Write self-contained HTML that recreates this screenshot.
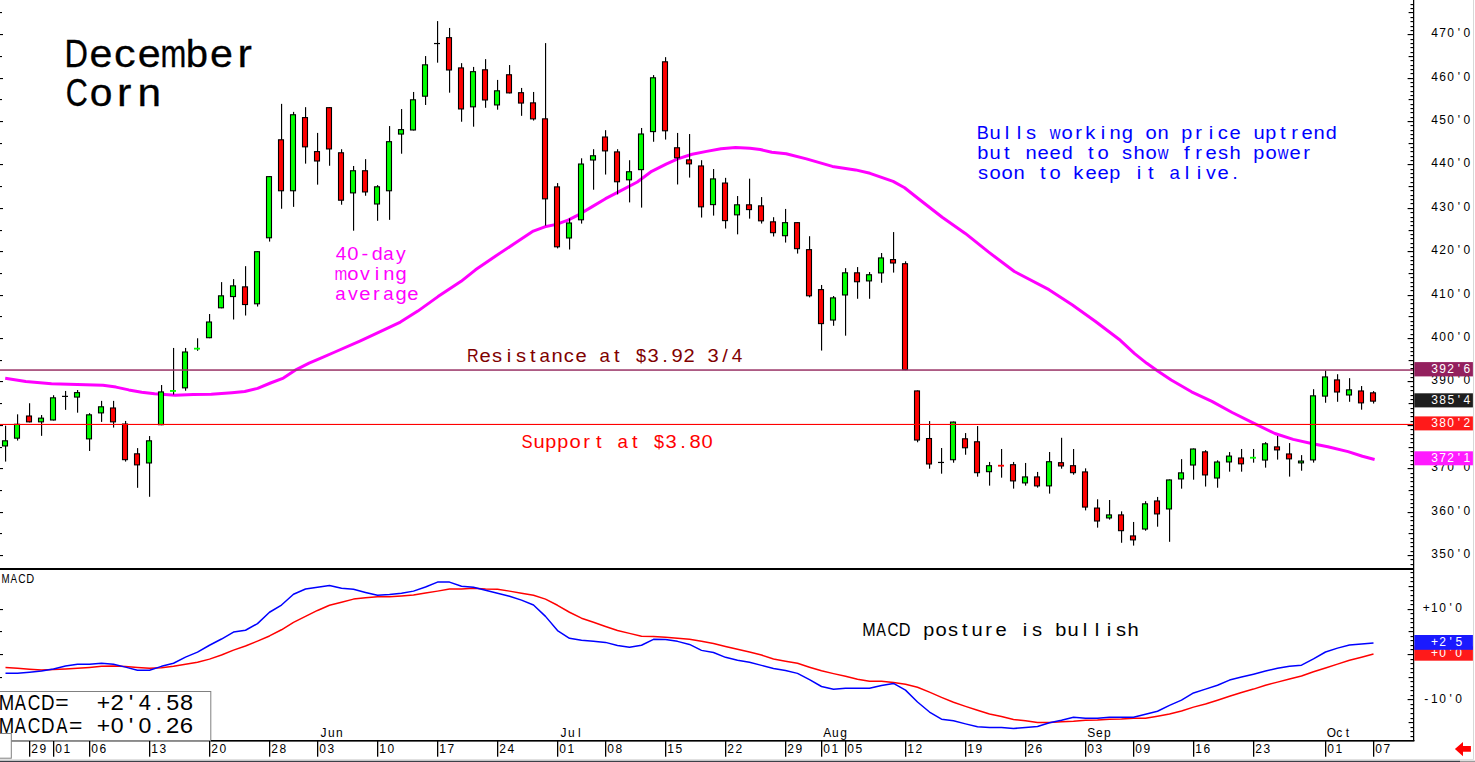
<!DOCTYPE html><html><head><meta charset="utf-8"><title>December Corn</title><style>html,body{margin:0;padding:0;background:#fff;}svg{display:block;}</style></head><body><svg width="1475" height="762" viewBox="0 0 1475 762" font-family="'Liberation Sans', sans-serif">
<rect width="1475" height="762" fill="#fff"/>
<g fill="#000"><rect x="0" y="555" width="3" height="1.1"/><rect x="0" y="533" width="2" height="1.1"/><rect x="0" y="512" width="3" height="1.1"/><rect x="0" y="490" width="2" height="1.1"/><rect x="0" y="468" width="3" height="1.1"/><rect x="0" y="447" width="2" height="1.1"/><rect x="0" y="425" width="3" height="1.1"/><rect x="0" y="403" width="2" height="1.1"/><rect x="0" y="381" width="3" height="1.1"/><rect x="0" y="360" width="2" height="1.1"/><rect x="0" y="338" width="3" height="1.1"/><rect x="0" y="316" width="2" height="1.1"/><rect x="0" y="295" width="3" height="1.1"/><rect x="0" y="273" width="2" height="1.1"/><rect x="0" y="251" width="3" height="1.1"/><rect x="0" y="230" width="2" height="1.1"/><rect x="0" y="208" width="3" height="1.1"/><rect x="0" y="186" width="2" height="1.1"/><rect x="0" y="164" width="3" height="1.1"/><rect x="0" y="143" width="2" height="1.1"/><rect x="0" y="121" width="3" height="1.1"/><rect x="0" y="99" width="2" height="1.1"/><rect x="0" y="78" width="3" height="1.1"/><rect x="0" y="56" width="2" height="1.1"/><rect x="0" y="34" width="3" height="1.1"/><rect x="0" y="12" width="2" height="1.1"/><rect x="0" y="677" width="2" height="1.1"/><rect x="0" y="654" width="3" height="1.1"/><rect x="0" y="631" width="2" height="1.1"/><rect x="0" y="609" width="3" height="1.1"/></g>
<polyline fill="none" stroke="#ff00ff" stroke-width="3" stroke-linejoin="round" stroke-linecap="butt" points="5.2,378.3 25.8,381.4 51.5,383.7 77.3,384.5 103,385.3 116,387.1 128.8,389.9 141.7,392.2 154.6,393.8 175.2,395.3 193.2,394.5 211.3,394.3 231.9,392.7 244.7,391.5 257.6,388.4 270.5,383 283.4,378.1 296.3,369.6 309.1,363.1 322,357.7 334.9,352 360.4,340.8 380.2,331.6 400.4,322.1 417.8,311.1 438,296.6 461.1,281.3 475.5,269.8 495.7,255.9 516,242.6 533.3,231.1 544.8,226.8 556.4,224.4 568,220.1 579.5,214.3 591,207.4 605.5,198.7 620,191.2 637.3,182 651.7,171.3 666.1,164.1 677.7,158.9 692.1,154.3 706.6,151.4 721,148.8 735.5,147.6 749.9,148.2 760.2,149.5 771.8,152.2 786.2,153.7 806.4,158.9 832.4,166.4 855.5,169.9 870,173.3 893.1,181.4 904.6,187.8 919.1,199.3 942.2,217.2 965.3,233.4 988.4,251.9 1014.4,271.5 1049,289.7 1072.1,304.7 1095.2,321.2 1120.3,340.3 1134.6,353.6 1146.8,363.3 1157,370.4 1171.2,380 1191.5,391.8 1211.9,401.4 1232.2,412.5 1254.6,423.7 1274.9,433.5 1293.2,439.4 1311.5,443.5 1327.8,446.7 1348.1,451.6 1362.4,456.3 1374.6,459.5"/>
<rect x="5" y="425.67" width="1.15" height="35.91" fill="#000"/><rect x="2.5" y="440.81" width="5" height="5.14" fill="#00ff00" stroke="#000" stroke-width="1.1"/><rect x="17" y="414.33" width="1.15" height="26.22" fill="#000"/><rect x="14.5" y="424.28" width="5" height="13.88" fill="#00ff00" stroke="#000" stroke-width="1.1"/><rect x="29" y="403.23" width="1.15" height="19.13" fill="#000"/><rect x="26.5" y="416.01" width="5" height="5.85" fill="#ff0000" stroke="#000" stroke-width="1.1"/><rect x="41" y="415.04" width="1.15" height="20.79" fill="#000"/><rect x="38.5" y="418.14" width="5" height="3.72" fill="#00ff00" stroke="#000" stroke-width="1.1"/><rect x="53" y="395.2" width="1.15" height="25.28" fill="#000"/><rect x="50.5" y="397.82" width="5" height="22.15" fill="#00ff00" stroke="#000" stroke-width="1.1"/><rect x="65" y="390.94" width="1.15" height="18.9" fill="#000"/><rect x="62" y="395.78" width="6" height="1.2" fill="#000"/><rect x="77" y="390" width="1.15" height="22.68" fill="#000"/><rect x="74.5" y="392.63" width="5" height="4.43" fill="#00ff00" stroke="#000" stroke-width="1.1"/><rect x="89" y="413.15" width="1.15" height="37.8" fill="#000"/><rect x="86.5" y="414.83" width="5" height="24.04" fill="#00ff00" stroke="#000" stroke-width="1.1"/><rect x="101" y="400.87" width="1.15" height="21.02" fill="#000"/><rect x="98.5" y="406.8" width="5" height="6.09" fill="#00ff00" stroke="#000" stroke-width="1.1"/><rect x="113" y="400.87" width="1.15" height="26.69" fill="#000"/><rect x="110.5" y="407.98" width="5" height="13.88" fill="#ff0000" stroke="#000" stroke-width="1.1"/><rect x="125" y="420.94" width="1.15" height="40.63" fill="#000"/><rect x="122.5" y="424.04" width="5" height="35.61" fill="#ff0000" stroke="#000" stroke-width="1.1"/><rect x="137" y="448.11" width="1.15" height="39.69" fill="#000"/><rect x="134.5" y="453.81" width="5" height="11.05" fill="#ff0000" stroke="#000" stroke-width="1.1"/><rect x="149" y="436.06" width="1.15" height="60.71" fill="#000"/><rect x="146.5" y="440.81" width="5" height="22.15" fill="#00ff00" stroke="#000" stroke-width="1.1"/><rect x="161" y="385.04" width="1.15" height="40.16" fill="#000"/><rect x="158.5" y="391.92" width="5" height="32.78" fill="#00ff00" stroke="#000" stroke-width="1.1"/><rect x="173" y="347.95" width="1.15" height="46.54" fill="#000"/><rect x="170" y="390.04" width="6" height="1.8" fill="#00ff00"/><rect x="185" y="347.95" width="1.15" height="42.76" fill="#000"/><rect x="182.5" y="352" width="5" height="35.85" fill="#00ff00" stroke="#000" stroke-width="1.1"/><rect x="197" y="338.27" width="1.15" height="12.52" fill="#000"/><rect x="194" y="347.76" width="6" height="1.8" fill="#00ff00"/><rect x="209" y="314.02" width="1.15" height="24.17" fill="#000"/><rect x="206.5" y="322" width="5" height="15.7" fill="#00ff00" stroke="#000" stroke-width="1.1"/><rect x="221" y="282.12" width="1.15" height="26.17" fill="#000"/><rect x="218.5" y="295.83" width="5" height="11.96" fill="#00ff00" stroke="#000" stroke-width="1.1"/><rect x="233" y="279.13" width="1.15" height="40.37" fill="#000"/><rect x="230.5" y="285.86" width="5" height="10.71" fill="#00ff00" stroke="#000" stroke-width="1.1"/><rect x="245" y="266.17" width="1.15" height="49.35" fill="#000"/><rect x="242.5" y="286.86" width="5" height="17.69" fill="#ff0000" stroke="#000" stroke-width="1.1"/><rect x="257" y="251.21" width="1.15" height="55.33" fill="#000"/><rect x="254.5" y="251.71" width="5" height="52.08" fill="#00ff00" stroke="#000" stroke-width="1.1"/><rect x="269" y="176.14" width="1.15" height="65.43" fill="#000"/><rect x="266.5" y="176.64" width="5" height="61.13" fill="#00ff00" stroke="#000" stroke-width="1.1"/><rect x="281" y="103.86" width="1.15" height="104.88" fill="#000"/><rect x="278.5" y="139.79" width="5" height="50.97" fill="#ff0000" stroke="#000" stroke-width="1.1"/><rect x="293" y="111.89" width="1.15" height="94.96" fill="#000"/><rect x="290.5" y="114.75" width="5" height="76.01" fill="#00ff00" stroke="#000" stroke-width="1.1"/><rect x="305" y="107.17" width="1.15" height="56.46" fill="#000"/><rect x="302.5" y="117.59" width="5" height="29.24" fill="#ff0000" stroke="#000" stroke-width="1.1"/><rect x="317" y="132.91" width="1.15" height="51.73" fill="#000"/><rect x="314.5" y="151.6" width="5" height="9.39" fill="#ff0000" stroke="#000" stroke-width="1.1"/><rect x="329" y="107.17" width="1.15" height="58.58" fill="#000"/><rect x="326.5" y="107.67" width="5" height="41.28" fill="#ff0000" stroke="#000" stroke-width="1.1"/><rect x="341" y="149.21" width="1.15" height="55.51" fill="#000"/><rect x="338.5" y="152.78" width="5" height="47.43" fill="#ff0000" stroke="#000" stroke-width="1.1"/><rect x="353" y="165.98" width="1.15" height="64.72" fill="#000"/><rect x="350.5" y="170.74" width="5" height="22.15" fill="#00ff00" stroke="#000" stroke-width="1.1"/><rect x="365" y="159.13" width="1.15" height="36.61" fill="#000"/><rect x="362.5" y="170.74" width="5" height="21.2" fill="#ff0000" stroke="#000" stroke-width="1.1"/><rect x="377" y="185.12" width="1.15" height="35.67" fill="#000"/><rect x="374.5" y="186.8" width="5" height="17.19" fill="#00ff00" stroke="#000" stroke-width="1.1"/><rect x="389" y="126.06" width="1.15" height="93.78" fill="#000"/><rect x="386.5" y="141.68" width="5" height="49.08" fill="#00ff00" stroke="#000" stroke-width="1.1"/><rect x="401" y="109.06" width="1.15" height="44.65" fill="#000"/><rect x="398.5" y="129.63" width="5" height="4.43" fill="#00ff00" stroke="#000" stroke-width="1.1"/><rect x="413" y="91.97" width="1.15" height="38.5" fill="#000"/><rect x="410.5" y="99.79" width="5" height="30.18" fill="#00ff00" stroke="#000" stroke-width="1.1"/><rect x="425" y="56.06" width="1.15" height="48.9" fill="#000"/><rect x="422.5" y="64.83" width="5" height="31.36" fill="#00ff00" stroke="#000" stroke-width="1.1"/><rect x="437" y="21.1" width="1.15" height="41.57" fill="#000"/><rect x="434" y="42.94" width="6" height="1.2" fill="#000"/><rect x="449" y="27.95" width="1.15" height="64.72" fill="#000"/><rect x="446.5" y="37.67" width="5" height="32.31" fill="#ff0000" stroke="#000" stroke-width="1.1"/><rect x="461" y="63.15" width="1.15" height="58.58" fill="#000"/><rect x="458.5" y="67.9" width="5" height="41.05" fill="#ff0000" stroke="#000" stroke-width="1.1"/><rect x="473" y="66.93" width="1.15" height="59.76" fill="#000"/><rect x="470.5" y="71.68" width="5" height="35.14" fill="#00ff00" stroke="#000" stroke-width="1.1"/><rect x="485" y="59.13" width="1.15" height="48.66" fill="#000"/><rect x="482.5" y="69.79" width="5" height="30.18" fill="#ff0000" stroke="#000" stroke-width="1.1"/><rect x="497" y="79.92" width="1.15" height="29.76" fill="#000"/><rect x="494.5" y="90.81" width="5" height="14.12" fill="#00ff00" stroke="#000" stroke-width="1.1"/><rect x="509" y="65.04" width="1.15" height="28.35" fill="#000"/><rect x="506.5" y="74.75" width="5" height="18.13" fill="#ff0000" stroke="#000" stroke-width="1.1"/><rect x="521" y="87.95" width="1.15" height="27.87" fill="#000"/><rect x="518.5" y="92.7" width="5" height="10.34" fill="#ff0000" stroke="#000" stroke-width="1.1"/><rect x="533" y="91.97" width="1.15" height="28.58" fill="#000"/><rect x="530.5" y="102.86" width="5" height="16.01" fill="#ff0000" stroke="#000" stroke-width="1.1"/><rect x="545" y="43.1" width="1.15" height="182.42" fill="#000"/><rect x="542.5" y="118.84" width="5" height="80.01" fill="#ff0000" stroke="#000" stroke-width="1.1"/><rect x="557" y="183.09" width="1.15" height="65.3" fill="#000"/><rect x="554.5" y="186.89" width="5" height="59.9" fill="#ff0000" stroke="#000" stroke-width="1.1"/><rect x="569" y="218.36" width="1.15" height="31.14" fill="#000"/><rect x="566.5" y="222.99" width="5" height="14.98" fill="#00ff00" stroke="#000" stroke-width="1.1"/><rect x="581" y="158.29" width="1.15" height="65.3" fill="#000"/><rect x="578.5" y="164.02" width="5" height="55.76" fill="#00ff00" stroke="#000" stroke-width="1.1"/><rect x="593" y="149.2" width="1.15" height="40.51" fill="#000"/><rect x="590.5" y="155.76" width="5" height="4.24" fill="#00ff00" stroke="#000" stroke-width="1.1"/><rect x="605" y="130.18" width="1.15" height="44.36" fill="#000"/><rect x="602.5" y="137.02" width="5" height="13.88" fill="#ff0000" stroke="#000" stroke-width="1.1"/><rect x="617" y="149.2" width="1.15" height="45.19" fill="#000"/><rect x="614.5" y="151.9" width="5" height="29.86" fill="#ff0000" stroke="#000" stroke-width="1.1"/><rect x="629" y="160.22" width="1.15" height="42.16" fill="#000"/><rect x="626.5" y="171.74" width="5" height="8.09" fill="#00ff00" stroke="#000" stroke-width="1.1"/><rect x="641" y="127.98" width="1.15" height="79.63" fill="#000"/><rect x="638.5" y="133.99" width="5" height="35.65" fill="#00ff00" stroke="#000" stroke-width="1.1"/><rect x="653" y="75.07" width="1.15" height="66.68" fill="#000"/><rect x="650.5" y="77.78" width="5" height="53.83" fill="#00ff00" stroke="#000" stroke-width="1.1"/><rect x="665" y="57.16" width="1.15" height="82.39" fill="#000"/><rect x="662.5" y="61.8" width="5" height="68.99" fill="#ff0000" stroke="#000" stroke-width="1.1"/><rect x="677" y="132.94" width="1.15" height="51.53" fill="#000"/><rect x="674.5" y="147.77" width="5" height="10.02" fill="#ff0000" stroke="#000" stroke-width="1.1"/><rect x="689" y="134.04" width="1.15" height="43.54" fill="#000"/><rect x="686.5" y="159.89" width="5" height="3.96" fill="#ff0000" stroke="#000" stroke-width="1.1"/><rect x="701" y="160.22" width="1.15" height="57.31" fill="#000"/><rect x="698.5" y="165.95" width="5" height="40.88" fill="#ff0000" stroke="#000" stroke-width="1.1"/><rect x="713" y="169.04" width="1.15" height="46.57" fill="#000"/><rect x="710.5" y="178.9" width="5" height="25.73" fill="#00ff00" stroke="#000" stroke-width="1.1"/><rect x="725" y="177.85" width="1.15" height="50.7" fill="#000"/><rect x="722.5" y="183.04" width="5" height="37.58" fill="#ff0000" stroke="#000" stroke-width="1.1"/><rect x="737" y="196.04" width="1.15" height="38.3" fill="#000"/><rect x="734.5" y="204.81" width="5" height="10.02" fill="#00ff00" stroke="#000" stroke-width="1.1"/><rect x="749" y="178.68" width="1.15" height="39.95" fill="#000"/><rect x="746.5" y="204.81" width="5" height="4.79" fill="#ff0000" stroke="#000" stroke-width="1.1"/><rect x="761" y="197.08" width="1.15" height="26.45" fill="#000"/><rect x="758.5" y="205.85" width="5" height="14.98" fill="#ff0000" stroke="#000" stroke-width="1.1"/><rect x="773" y="217.2" width="1.15" height="19.29" fill="#000"/><rect x="770.5" y="221.83" width="5" height="10.85" fill="#ff0000" stroke="#000" stroke-width="1.1"/><rect x="785" y="208.93" width="1.15" height="33.62" fill="#000"/><rect x="782.5" y="222.66" width="5" height="13.05" fill="#00ff00" stroke="#000" stroke-width="1.1"/><rect x="797" y="222.16" width="1.15" height="31.41" fill="#000"/><rect x="794.5" y="222.66" width="5" height="26" fill="#ff0000" stroke="#000" stroke-width="1.1"/><rect x="809" y="236.21" width="1.15" height="61.17" fill="#000"/><rect x="806.5" y="249.66" width="5" height="46.12" fill="#ff0000" stroke="#000" stroke-width="1.1"/><rect x="821" y="284.98" width="1.15" height="65.58" fill="#000"/><rect x="818.5" y="289.62" width="5" height="33.99" fill="#ff0000" stroke="#000" stroke-width="1.1"/><rect x="833" y="296" width="1.15" height="29.76" fill="#000"/><rect x="830.5" y="297.88" width="5" height="22.15" fill="#00ff00" stroke="#000" stroke-width="1.1"/><rect x="845" y="268.17" width="1.15" height="67.51" fill="#000"/><rect x="842.5" y="272.81" width="5" height="22.15" fill="#00ff00" stroke="#000" stroke-width="1.1"/><rect x="857" y="267.07" width="1.15" height="31.69" fill="#000"/><rect x="854.5" y="272.81" width="5" height="8.92" fill="#ff0000" stroke="#000" stroke-width="1.1"/><rect x="869" y="272.03" width="1.15" height="26.73" fill="#000"/><rect x="866.5" y="274.74" width="5" height="6.16" fill="#00ff00" stroke="#000" stroke-width="1.1"/><rect x="881" y="253.02" width="1.15" height="29.76" fill="#000"/><rect x="878.5" y="257.93" width="5" height="14.98" fill="#00ff00" stroke="#000" stroke-width="1.1"/><rect x="893" y="232.08" width="1.15" height="40.51" fill="#000"/><rect x="890.5" y="259.58" width="5" height="3.41" fill="#ff0000" stroke="#000" stroke-width="1.1"/><rect x="905" y="261.29" width="1.15" height="108.84" fill="#000"/><rect x="902.5" y="263.71" width="5" height="105.91" fill="#ff0000" stroke="#000" stroke-width="1.1"/><rect x="917" y="390.44" width="1.15" height="51.84" fill="#000"/><rect x="914.5" y="390.94" width="5" height="49.09" fill="#ff0000" stroke="#000" stroke-width="1.1"/><rect x="929" y="421.09" width="1.15" height="47.6" fill="#000"/><rect x="926.5" y="438.54" width="5" height="25.42" fill="#ff0000" stroke="#000" stroke-width="1.1"/><rect x="941" y="448.01" width="1.15" height="25.67" fill="#000"/><rect x="938" y="461.86" width="6" height="1.2" fill="#000"/><rect x="953" y="421.59" width="1.15" height="41.12" fill="#000"/><rect x="950.5" y="422.09" width="5" height="37.63" fill="#00ff00" stroke="#000" stroke-width="1.1"/><rect x="965" y="433.05" width="1.15" height="21.68" fill="#000"/><rect x="962.5" y="438.79" width="5" height="8.97" fill="#ff0000" stroke="#000" stroke-width="1.1"/><rect x="977" y="426.07" width="1.15" height="50.59" fill="#000"/><rect x="974.5" y="441.78" width="5" height="30.9" fill="#ff0000" stroke="#000" stroke-width="1.1"/><rect x="989" y="461.96" width="1.15" height="23.68" fill="#000"/><rect x="986.5" y="465.7" width="5" height="5.98" fill="#00ff00" stroke="#000" stroke-width="1.1"/><rect x="1001" y="449" width="1.15" height="28.66" fill="#000"/><rect x="998" y="464.8" width="6" height="1.8" fill="#ff0000"/><rect x="1013" y="461.96" width="1.15" height="26.67" fill="#000"/><rect x="1010.5" y="464.71" width="5" height="16.2" fill="#ff0000" stroke="#000" stroke-width="1.1"/><rect x="1025" y="462.96" width="1.15" height="22.68" fill="#000"/><rect x="1022.5" y="476.92" width="5" height="5.98" fill="#00ff00" stroke="#000" stroke-width="1.1"/><rect x="1037" y="471.93" width="1.15" height="15.7" fill="#000"/><rect x="1034.5" y="476.92" width="5" height="8.97" fill="#ff0000" stroke="#000" stroke-width="1.1"/><rect x="1049" y="451.99" width="1.15" height="41.62" fill="#000"/><rect x="1046.5" y="461.71" width="5" height="24.17" fill="#00ff00" stroke="#000" stroke-width="1.1"/><rect x="1061" y="437.79" width="1.15" height="30.9" fill="#000"/><rect x="1058.5" y="462.71" width="5" height="3.24" fill="#ff0000" stroke="#000" stroke-width="1.1"/><rect x="1073" y="449" width="1.15" height="25.67" fill="#000"/><rect x="1070.5" y="465.7" width="5" height="6.98" fill="#ff0000" stroke="#000" stroke-width="1.1"/><rect x="1085" y="468.35" width="1.15" height="42.05" fill="#000"/><rect x="1082.5" y="471.92" width="5" height="35.14" fill="#ff0000" stroke="#000" stroke-width="1.1"/><rect x="1097" y="499.29" width="1.15" height="28.35" fill="#000"/><rect x="1094.5" y="508.06" width="5" height="12.94" fill="#ff0000" stroke="#000" stroke-width="1.1"/><rect x="1109" y="500" width="1.15" height="19.61" fill="#000"/><rect x="1106.5" y="514.91" width="5" height="3.02" fill="#00ff00" stroke="#000" stroke-width="1.1"/><rect x="1121" y="511.34" width="1.15" height="31.42" fill="#000"/><rect x="1118.5" y="514.91" width="5" height="15.77" fill="#ff0000" stroke="#000" stroke-width="1.1"/><rect x="1133" y="521.97" width="1.15" height="23.62" fill="#000"/><rect x="1130.5" y="535.93" width="5" height="3.96" fill="#ff0000" stroke="#000" stroke-width="1.1"/><rect x="1145" y="501.18" width="1.15" height="29.53" fill="#000"/><rect x="1142.5" y="503.81" width="5" height="25.22" fill="#00ff00" stroke="#000" stroke-width="1.1"/><rect x="1157" y="496.93" width="1.15" height="29.76" fill="#000"/><rect x="1154.5" y="500.97" width="5" height="12.94" fill="#ff0000" stroke="#000" stroke-width="1.1"/><rect x="1169" y="479.45" width="1.15" height="62.36" fill="#000"/><rect x="1166.5" y="479.95" width="5" height="29" fill="#00ff00" stroke="#000" stroke-width="1.1"/><rect x="1181" y="459.13" width="1.15" height="29.53" fill="#000"/><rect x="1178.5" y="472.86" width="5" height="6.09" fill="#00ff00" stroke="#000" stroke-width="1.1"/><rect x="1193" y="448.5" width="1.15" height="31.18" fill="#000"/><rect x="1190.5" y="449" width="5" height="16.01" fill="#00ff00" stroke="#000" stroke-width="1.1"/><rect x="1205" y="450.16" width="1.15" height="36.38" fill="#000"/><rect x="1202.5" y="451.84" width="5" height="23.09" fill="#ff0000" stroke="#000" stroke-width="1.1"/><rect x="1217" y="460.31" width="1.15" height="27.4" fill="#000"/><rect x="1214.5" y="462" width="5" height="16.01" fill="#00ff00" stroke="#000" stroke-width="1.1"/><rect x="1229" y="452.05" width="1.15" height="19.61" fill="#000"/><rect x="1226.5" y="456.09" width="5" height="5.85" fill="#00ff00" stroke="#000" stroke-width="1.1"/><rect x="1241" y="448.98" width="1.15" height="22.68" fill="#000"/><rect x="1238.5" y="457.98" width="5" height="5.85" fill="#ff0000" stroke="#000" stroke-width="1.1"/><rect x="1253" y="448.98" width="1.15" height="13.7" fill="#000"/><rect x="1250" y="456.82" width="6" height="1.8" fill="#00ff00"/><rect x="1265" y="442.13" width="1.15" height="25.51" fill="#000"/><rect x="1262.5" y="443.81" width="5" height="16.24" fill="#00ff00" stroke="#000" stroke-width="1.1"/><rect x="1277" y="435.98" width="1.15" height="23.62" fill="#000"/><rect x="1274.5" y="446.88" width="5" height="3.02" fill="#ff0000" stroke="#000" stroke-width="1.1"/><rect x="1289" y="443.07" width="1.15" height="33.54" fill="#000"/><rect x="1286.5" y="453.96" width="5" height="4.91" fill="#ff0000" stroke="#000" stroke-width="1.1"/><rect x="1301" y="455.12" width="1.15" height="15.59" fill="#000"/><rect x="1298.5" y="461.05" width="5" height="1.83" fill="#00ff00" stroke="#000" stroke-width="1.1"/><rect x="1313" y="389.19" width="1.15" height="73.42" fill="#000"/><rect x="1310.5" y="395.84" width="5" height="64.07" fill="#00ff00" stroke="#000" stroke-width="1.1"/><rect x="1325" y="370.44" width="1.15" height="32.3" fill="#000"/><rect x="1322.5" y="376.93" width="5" height="19.17" fill="#00ff00" stroke="#000" stroke-width="1.1"/><rect x="1337" y="374.22" width="1.15" height="27.57" fill="#000"/><rect x="1334.5" y="379.92" width="5" height="12.08" fill="#ff0000" stroke="#000" stroke-width="1.1"/><rect x="1349" y="378.16" width="1.15" height="23.63" fill="#000"/><rect x="1346.5" y="389.85" width="5" height="5.14" fill="#00ff00" stroke="#000" stroke-width="1.1"/><rect x="1361" y="386.04" width="1.15" height="23.63" fill="#000"/><rect x="1358.5" y="390.95" width="5" height="11.92" fill="#ff0000" stroke="#000" stroke-width="1.1"/><rect x="1373" y="391.08" width="1.15" height="12.45" fill="#000"/><rect x="1370.5" y="392.84" width="5" height="8.3" fill="#ff0000" stroke="#000" stroke-width="1.1"/>
<rect x="0" y="369.3" width="1413" height="1.5" fill="#993366"/>
<rect x="0" y="423.9" width="1413" height="1.1" fill="#ff0000"/>
<rect x="0" y="568" width="1414" height="2" fill="#000"/>
<rect x="1413" y="0" width="1.25" height="741" fill="#000"/>
<rect x="11" y="740" width="1403.3" height="1.4" fill="#000"/>
<g fill="#000"><rect x="1410.5" y="564" width="2.5" height="1.15"/><rect x="1410.5" y="559" width="2.5" height="1.15"/><rect x="1407.6" y="555" width="5.4" height="1.15"/><rect x="1410.5" y="551" width="2.5" height="1.15"/><rect x="1410.5" y="546" width="2.5" height="1.15"/><rect x="1410.5" y="542" width="2.5" height="1.15"/><rect x="1410.5" y="538" width="2.5" height="1.15"/><rect x="1408.6" y="533" width="4.4" height="1.15"/><rect x="1410.5" y="529" width="2.5" height="1.15"/><rect x="1410.5" y="525" width="2.5" height="1.15"/><rect x="1410.5" y="520" width="2.5" height="1.15"/><rect x="1410.5" y="516" width="2.5" height="1.15"/><rect x="1407.6" y="512" width="5.4" height="1.15"/><rect x="1410.5" y="507" width="2.5" height="1.15"/><rect x="1410.5" y="503" width="2.5" height="1.15"/><rect x="1410.5" y="499" width="2.5" height="1.15"/><rect x="1410.5" y="494" width="2.5" height="1.15"/><rect x="1408.6" y="490" width="4.4" height="1.15"/><rect x="1410.5" y="486" width="2.5" height="1.15"/><rect x="1410.5" y="481" width="2.5" height="1.15"/><rect x="1410.5" y="477" width="2.5" height="1.15"/><rect x="1410.5" y="473" width="2.5" height="1.15"/><rect x="1407.6" y="468" width="5.4" height="1.15"/><rect x="1410.5" y="464" width="2.5" height="1.15"/><rect x="1410.5" y="460" width="2.5" height="1.15"/><rect x="1410.5" y="455" width="2.5" height="1.15"/><rect x="1410.5" y="451" width="2.5" height="1.15"/><rect x="1408.6" y="447" width="4.4" height="1.15"/><rect x="1410.5" y="442" width="2.5" height="1.15"/><rect x="1410.5" y="438" width="2.5" height="1.15"/><rect x="1410.5" y="434" width="2.5" height="1.15"/><rect x="1410.5" y="429" width="2.5" height="1.15"/><rect x="1407.6" y="425" width="5.4" height="1.15"/><rect x="1410.5" y="421" width="2.5" height="1.15"/><rect x="1410.5" y="416" width="2.5" height="1.15"/><rect x="1410.5" y="412" width="2.5" height="1.15"/><rect x="1410.5" y="408" width="2.5" height="1.15"/><rect x="1408.6" y="403" width="4.4" height="1.15"/><rect x="1410.5" y="399" width="2.5" height="1.15"/><rect x="1410.5" y="395" width="2.5" height="1.15"/><rect x="1410.5" y="390" width="2.5" height="1.15"/><rect x="1410.5" y="386" width="2.5" height="1.15"/><rect x="1407.6" y="381" width="5.4" height="1.15"/><rect x="1410.5" y="377" width="2.5" height="1.15"/><rect x="1410.5" y="373" width="2.5" height="1.15"/><rect x="1410.5" y="368" width="2.5" height="1.15"/><rect x="1410.5" y="364" width="2.5" height="1.15"/><rect x="1408.6" y="360" width="4.4" height="1.15"/><rect x="1410.5" y="355" width="2.5" height="1.15"/><rect x="1410.5" y="351" width="2.5" height="1.15"/><rect x="1410.5" y="347" width="2.5" height="1.15"/><rect x="1410.5" y="342" width="2.5" height="1.15"/><rect x="1407.6" y="338" width="5.4" height="1.15"/><rect x="1410.5" y="334" width="2.5" height="1.15"/><rect x="1410.5" y="329" width="2.5" height="1.15"/><rect x="1410.5" y="325" width="2.5" height="1.15"/><rect x="1410.5" y="321" width="2.5" height="1.15"/><rect x="1408.6" y="316" width="4.4" height="1.15"/><rect x="1410.5" y="312" width="2.5" height="1.15"/><rect x="1410.5" y="308" width="2.5" height="1.15"/><rect x="1410.5" y="303" width="2.5" height="1.15"/><rect x="1410.5" y="299" width="2.5" height="1.15"/><rect x="1407.6" y="295" width="5.4" height="1.15"/><rect x="1410.5" y="290" width="2.5" height="1.15"/><rect x="1410.5" y="286" width="2.5" height="1.15"/><rect x="1410.5" y="282" width="2.5" height="1.15"/><rect x="1410.5" y="277" width="2.5" height="1.15"/><rect x="1408.6" y="273" width="4.4" height="1.15"/><rect x="1410.5" y="269" width="2.5" height="1.15"/><rect x="1410.5" y="264" width="2.5" height="1.15"/><rect x="1410.5" y="260" width="2.5" height="1.15"/><rect x="1410.5" y="256" width="2.5" height="1.15"/><rect x="1407.6" y="251" width="5.4" height="1.15"/><rect x="1410.5" y="247" width="2.5" height="1.15"/><rect x="1410.5" y="243" width="2.5" height="1.15"/><rect x="1410.5" y="238" width="2.5" height="1.15"/><rect x="1410.5" y="234" width="2.5" height="1.15"/><rect x="1408.6" y="230" width="4.4" height="1.15"/><rect x="1410.5" y="225" width="2.5" height="1.15"/><rect x="1410.5" y="221" width="2.5" height="1.15"/><rect x="1410.5" y="217" width="2.5" height="1.15"/><rect x="1410.5" y="212" width="2.5" height="1.15"/><rect x="1407.6" y="208" width="5.4" height="1.15"/><rect x="1410.5" y="203" width="2.5" height="1.15"/><rect x="1410.5" y="199" width="2.5" height="1.15"/><rect x="1410.5" y="195" width="2.5" height="1.15"/><rect x="1410.5" y="190" width="2.5" height="1.15"/><rect x="1408.6" y="186" width="4.4" height="1.15"/><rect x="1410.5" y="182" width="2.5" height="1.15"/><rect x="1410.5" y="177" width="2.5" height="1.15"/><rect x="1410.5" y="173" width="2.5" height="1.15"/><rect x="1410.5" y="169" width="2.5" height="1.15"/><rect x="1407.6" y="164" width="5.4" height="1.15"/><rect x="1410.5" y="160" width="2.5" height="1.15"/><rect x="1410.5" y="156" width="2.5" height="1.15"/><rect x="1410.5" y="151" width="2.5" height="1.15"/><rect x="1410.5" y="147" width="2.5" height="1.15"/><rect x="1408.6" y="143" width="4.4" height="1.15"/><rect x="1410.5" y="138" width="2.5" height="1.15"/><rect x="1410.5" y="134" width="2.5" height="1.15"/><rect x="1410.5" y="130" width="2.5" height="1.15"/><rect x="1410.5" y="125" width="2.5" height="1.15"/><rect x="1407.6" y="121" width="5.4" height="1.15"/><rect x="1410.5" y="117" width="2.5" height="1.15"/><rect x="1410.5" y="112" width="2.5" height="1.15"/><rect x="1410.5" y="108" width="2.5" height="1.15"/><rect x="1410.5" y="104" width="2.5" height="1.15"/><rect x="1408.6" y="99" width="4.4" height="1.15"/><rect x="1410.5" y="95" width="2.5" height="1.15"/><rect x="1410.5" y="91" width="2.5" height="1.15"/><rect x="1410.5" y="86" width="2.5" height="1.15"/><rect x="1410.5" y="82" width="2.5" height="1.15"/><rect x="1407.6" y="78" width="5.4" height="1.15"/><rect x="1410.5" y="73" width="2.5" height="1.15"/><rect x="1410.5" y="69" width="2.5" height="1.15"/><rect x="1410.5" y="65" width="2.5" height="1.15"/><rect x="1410.5" y="60" width="2.5" height="1.15"/><rect x="1408.6" y="56" width="4.4" height="1.15"/><rect x="1410.5" y="52" width="2.5" height="1.15"/><rect x="1410.5" y="47" width="2.5" height="1.15"/><rect x="1410.5" y="43" width="2.5" height="1.15"/><rect x="1410.5" y="39" width="2.5" height="1.15"/><rect x="1407.6" y="34" width="5.4" height="1.15"/><rect x="1410.5" y="30" width="2.5" height="1.15"/><rect x="1410.5" y="26" width="2.5" height="1.15"/><rect x="1410.5" y="21" width="2.5" height="1.15"/><rect x="1410.5" y="17" width="2.5" height="1.15"/><rect x="1408.6" y="12" width="4.4" height="1.15"/><rect x="1410.5" y="8" width="2.5" height="1.15"/><rect x="1410.5" y="4" width="2.5" height="1.15"/><rect x="1410.5" y="736" width="2.5" height="1.15"/><rect x="1410.5" y="731" width="2.5" height="1.15"/><rect x="1410.5" y="727" width="2.5" height="1.15"/><rect x="1408.6" y="722" width="4.4" height="1.15"/><rect x="1410.5" y="718" width="2.5" height="1.15"/><rect x="1410.5" y="713" width="2.5" height="1.15"/><rect x="1410.5" y="708" width="2.5" height="1.15"/><rect x="1410.5" y="704" width="2.5" height="1.15"/><rect x="1407.6" y="699" width="5.4" height="1.15"/><rect x="1410.5" y="695" width="2.5" height="1.15"/><rect x="1410.5" y="690" width="2.5" height="1.15"/><rect x="1410.5" y="686" width="2.5" height="1.15"/><rect x="1410.5" y="681" width="2.5" height="1.15"/><rect x="1408.6" y="677" width="4.4" height="1.15"/><rect x="1410.5" y="672" width="2.5" height="1.15"/><rect x="1410.5" y="668" width="2.5" height="1.15"/><rect x="1410.5" y="663" width="2.5" height="1.15"/><rect x="1410.5" y="659" width="2.5" height="1.15"/><rect x="1407.6" y="654" width="5.4" height="1.15"/><rect x="1410.5" y="649" width="2.5" height="1.15"/><rect x="1410.5" y="645" width="2.5" height="1.15"/><rect x="1410.5" y="640" width="2.5" height="1.15"/><rect x="1410.5" y="636" width="2.5" height="1.15"/><rect x="1408.6" y="631" width="4.4" height="1.15"/><rect x="1410.5" y="627" width="2.5" height="1.15"/><rect x="1410.5" y="622" width="2.5" height="1.15"/><rect x="1410.5" y="618" width="2.5" height="1.15"/><rect x="1410.5" y="613" width="2.5" height="1.15"/><rect x="1407.6" y="609" width="5.4" height="1.15"/><rect x="1410.5" y="604" width="2.5" height="1.15"/><rect x="1410.5" y="600" width="2.5" height="1.15"/><rect x="1410.5" y="595" width="2.5" height="1.15"/><rect x="1410.5" y="590" width="2.5" height="1.15"/><rect x="1408.6" y="586" width="4.4" height="1.15"/><rect x="1410.5" y="581" width="2.5" height="1.15"/><rect x="1410.5" y="577" width="2.5" height="1.15"/><rect x="1410.5" y="572" width="2.5" height="1.15"/></g>
<g font-size="12" fill="#000"><text x="1431.2" y="558.02">3</text><text x="1439.28" y="558.02">5</text><text x="1447.36" y="558.02">0</text><text x="1457.65" y="558.02">&#39;</text><text x="1463.56" y="558.02">0</text></g>
<g font-size="12" fill="#000"><text x="1431.2" y="514.61">3</text><text x="1439.22" y="514.61">6</text><text x="1447.36" y="514.61">0</text><text x="1457.65" y="514.61">&#39;</text><text x="1463.56" y="514.61">0</text></g>
<g font-size="12" fill="#000"><text x="1431.2" y="471.2">3</text><text x="1439.26" y="471.2">7</text><text x="1447.36" y="471.2">0</text><text x="1457.65" y="471.2">&#39;</text><text x="1463.56" y="471.2">0</text></g>
<g font-size="12" fill="#000"><text x="1431.2" y="427.79">3</text><text x="1439.26" y="427.79">8</text><text x="1447.36" y="427.79">0</text><text x="1457.65" y="427.79">&#39;</text><text x="1463.56" y="427.79">0</text></g>
<g font-size="12" fill="#000"><text x="1431.2" y="384.38">3</text><text x="1439.26" y="384.38">9</text><text x="1447.36" y="384.38">0</text><text x="1457.65" y="384.38">&#39;</text><text x="1463.56" y="384.38">0</text></g>
<g font-size="12" fill="#000"><text x="1431.2" y="340.97">4</text><text x="1439.26" y="340.97">0</text><text x="1447.36" y="340.97">0</text><text x="1457.65" y="340.97">&#39;</text><text x="1463.56" y="340.97">0</text></g>
<g font-size="12" fill="#000"><text x="1431.2" y="297.56">4</text><text x="1439.1" y="297.56">1</text><text x="1447.36" y="297.56">0</text><text x="1457.65" y="297.56">&#39;</text><text x="1463.56" y="297.56">0</text></g>
<g font-size="12" fill="#000"><text x="1431.2" y="254.15">4</text><text x="1439.26" y="254.15">2</text><text x="1447.36" y="254.15">0</text><text x="1457.65" y="254.15">&#39;</text><text x="1463.56" y="254.15">0</text></g>
<g font-size="12" fill="#000"><text x="1431.2" y="210.74">4</text><text x="1439.3" y="210.74">3</text><text x="1447.36" y="210.74">0</text><text x="1457.65" y="210.74">&#39;</text><text x="1463.56" y="210.74">0</text></g>
<g font-size="12" fill="#000"><text x="1431.2" y="167.33">4</text><text x="1439.3" y="167.33">4</text><text x="1447.36" y="167.33">0</text><text x="1457.65" y="167.33">&#39;</text><text x="1463.56" y="167.33">0</text></g>
<g font-size="12" fill="#000"><text x="1431.2" y="123.92">4</text><text x="1439.28" y="123.92">5</text><text x="1447.36" y="123.92">0</text><text x="1457.65" y="123.92">&#39;</text><text x="1463.56" y="123.92">0</text></g>
<g font-size="12" fill="#000"><text x="1431.2" y="80.51">4</text><text x="1439.22" y="80.51">6</text><text x="1447.36" y="80.51">0</text><text x="1457.65" y="80.51">&#39;</text><text x="1463.56" y="80.51">0</text></g>
<g font-size="12" fill="#000"><text x="1431.2" y="37.1">4</text><text x="1439.26" y="37.1">7</text><text x="1447.36" y="37.1">0</text><text x="1457.65" y="37.1">&#39;</text><text x="1463.56" y="37.1">0</text></g>
<g font-size="12" fill="#000"><text x="1422.8" y="611.9">+</text><text x="1430.9" y="611.9">1</text><text x="1439.16" y="611.9">0</text><text x="1449.45" y="611.9">&#39;</text><text x="1455.36" y="611.9">0</text></g>
<g font-size="12" fill="#000"><text x="1424.3" y="702.8">-</text><text x="1430.9" y="702.8">1</text><text x="1439.16" y="702.8">0</text><text x="1449.45" y="702.8">&#39;</text><text x="1455.36" y="702.8">0</text></g>
<rect x="1414.3" y="362.1" width="58.6" height="14.3" fill="#93205e"/>
<g font-size="12" fill="#fff"><text x="1431.2" y="372.7">3</text><text x="1439.26" y="372.7">9</text><text x="1447.36" y="372.7">2</text><text x="1457.65" y="372.7">&#39;</text><text x="1463.52" y="372.7">6</text></g>
<rect x="1414.3" y="393.3" width="58.6" height="14.1" fill="#1e1e1e"/>
<g font-size="12" fill="#fff"><text x="1431.2" y="403.8">3</text><text x="1439.26" y="403.8">8</text><text x="1447.38" y="403.8">5</text><text x="1457.65" y="403.8">&#39;</text><text x="1463.6" y="403.8">4</text></g>
<rect x="1414.3" y="416.4" width="58.6" height="14" fill="#ff1a1a"/>
<g font-size="12" fill="#fff"><text x="1431.2" y="426.85">3</text><text x="1439.26" y="426.85">8</text><text x="1447.36" y="426.85">0</text><text x="1457.65" y="426.85">&#39;</text><text x="1463.56" y="426.85">2</text></g>
<rect x="1414.3" y="451.3" width="58.6" height="14" fill="#ff1aff"/>
<g font-size="12" fill="#fff"><text x="1431.2" y="461.75">3</text><text x="1439.26" y="461.75">7</text><text x="1447.36" y="461.75">2</text><text x="1457.65" y="461.75">&#39;</text><text x="1463.4" y="461.75">1</text></g>
<rect x="1414.3" y="646.2" width="58.6" height="14.5" fill="#ff1a1a"/>
<g font-size="12" fill="#fff"><text x="1430.9" y="656.9">+</text><text x="1439.16" y="656.9">0</text><text x="1449.45" y="656.9">&#39;</text><text x="1455.36" y="656.9">0</text></g>
<rect x="1414.3" y="635" width="58.6" height="14.8" fill="#1a1aff"/>
<g font-size="12" fill="#fff"><text x="1430.9" y="645.85">+</text><text x="1439.16" y="645.85">2</text><text x="1449.45" y="645.85">&#39;</text><text x="1455.38" y="645.85">5</text></g>
<polyline fill="none" stroke="#ff0000" stroke-width="1.5" stroke-linejoin="round" points="5.5,667.38 17.5,668.16 29.5,669.19 41.5,669.96 53.5,669.44 65.5,668.93 77.5,668.16 89.5,667.38 101.5,666.35 113.5,666.09 125.5,666.61 137.5,667.38 149.5,668.16 161.5,667.64 173.5,666.35 185.5,664.29 197.5,662.23 209.5,659.14 221.5,655.02 233.5,650.12 245.5,646 257.5,641.11 269.5,635.95 281.5,629.77 293.5,622.3 305.5,616.37 317.5,610.45 329.5,605.29 341.5,602.2 353.5,599.11 365.5,597.82 377.5,596.79 389.5,596.79 401.5,596.02 413.5,594.99 425.5,592.93 437.5,591.13 449.5,589.06 461.5,589.06 473.5,588.29 485.5,589.06 497.5,589.32 509.5,591.13 521.5,593.19 533.5,595.25 545.5,599.11 557.5,605.29 569.5,612.25 581.5,618.18 593.5,622.3 605.5,626.42 617.5,630.54 629.5,633.38 641.5,636.21 653.5,636.47 665.5,637.24 677.5,638.27 689.5,639.3 701.5,641.36 713.5,643.42 725.5,646.52 737.5,649.35 749.5,651.99 761.5,655.08 773.5,658.95 785.5,661.27 797.5,663.33 809.5,667.19 821.5,670.8 833.5,673.63 845.5,676.21 857.5,679.3 869.5,681.36 881.5,681.36 893.5,682.39 905.5,684.2 917.5,687.29 929.5,692.18 941.5,697.34 953.5,702.23 965.5,706.35 977.5,710.22 989.5,714.08 1001.5,716.4 1013.5,719.49 1025.5,720.78 1037.5,722.58 1049.5,722.58 1061.5,721.81 1073.5,721.29 1085.5,720.26 1097.5,720.01 1109.5,719.23 1121.5,718.98 1133.5,718.2 1145.5,718.2 1157.5,716.14 1169.5,714.08 1181.5,710.99 1193.5,707.13 1205.5,704.03 1217.5,700.17 1229.5,696.31 1241.5,692.44 1253.5,689.09 1265.5,685.23 1277.5,682.14 1289.5,679.04 1301.5,675.95 1313.5,671.83 1325.5,667.97 1337.5,664.1 1349.5,660.24 1361.5,657.15 1373.5,654.05"/>
<polyline fill="none" stroke="#0000ff" stroke-width="1.5" stroke-linejoin="round" points="5.5,673.31 17.5,673.31 29.5,672.28 41.5,670.99 53.5,668.93 65.5,666.09 77.5,664.29 89.5,664.29 101.5,663.26 113.5,664.29 125.5,667.13 137.5,670.22 149.5,670.22 161.5,666.35 173.5,663.26 185.5,657.08 197.5,652.18 209.5,645.23 221.5,639.04 233.5,632.09 245.5,630.28 257.5,623.59 269.5,612.25 281.5,605.04 293.5,594.22 305.5,589.06 317.5,587.26 329.5,585.46 341.5,588.29 353.5,589.32 365.5,592.41 377.5,595.25 389.5,594.47 401.5,593.19 413.5,591.13 425.5,587 437.5,582.11 449.5,582.11 461.5,586.23 473.5,587.26 485.5,590.35 497.5,593.19 509.5,596.28 521.5,600.14 533.5,605.04 545.5,616.37 557.5,630.54 569.5,638.27 581.5,640.33 593.5,641.36 605.5,642.39 617.5,645.48 629.5,647.29 641.5,645.23 653.5,639.3 665.5,639.56 677.5,641.36 689.5,644.45 701.5,650.38 713.5,652.44 725.5,657.34 737.5,660.17 749.5,662.3 761.5,665.39 773.5,668.48 785.5,670.54 797.5,673.38 809.5,679.56 821.5,686.52 833.5,689.35 845.5,688.32 857.5,688.32 869.5,688.32 881.5,685.48 893.5,683.42 905.5,690.12 917.5,701.97 929.5,712.02 941.5,719.23 953.5,720.78 965.5,723.87 977.5,726.71 989.5,727.48 1001.5,727.48 1013.5,728.51 1025.5,727.48 1037.5,726.45 1049.5,722.84 1061.5,720.26 1073.5,717.17 1085.5,718.2 1097.5,718.2 1109.5,717.17 1121.5,717.17 1133.5,717.17 1145.5,714.34 1157.5,711.25 1169.5,705.32 1181.5,700.17 1193.5,692.96 1205.5,689.09 1217.5,685.23 1229.5,680.07 1241.5,676.98 1253.5,674.15 1265.5,671.06 1277.5,668.22 1289.5,666.16 1301.5,665.13 1313.5,658.95 1325.5,651.99 1337.5,648.13 1349.5,645.04 1361.5,644.01 1373.5,642.98"/>
<g font-size="39.2" fill="#000" stroke="#000" stroke-width="0.3"><text transform="translate(76.9,66.8) scale(0.83,1)" x="-14.82" y="0">D</text><text transform="translate(101,66.8) scale(1.05,1)" x="-10.86" y="0">e</text><text transform="translate(125.1,66.8) scale(1.1,1)" x="-10.11" y="0">c</text><text transform="translate(149.2,66.8) scale(1.05,1)" x="-10.86" y="0">e</text><text transform="translate(173.3,66.8) scale(0.79,1)" x="-16.33" y="0">m</text><text transform="translate(197.4,66.8) scale(1.02,1)" x="-11.35" y="0">b</text><text transform="translate(221.5,66.8) scale(1.05,1)" x="-10.86" y="0">e</text><text transform="translate(245.6,66.8) scale(1.1,1)" x="-7.49" y="0">r</text></g>
<g font-size="39.2" fill="#000" stroke="#000" stroke-width="0.3"><text transform="translate(76.9,106.1) scale(0.78,1)" x="-14.41" y="0">C</text><text transform="translate(101,106.1) scale(1.04,1)" x="-10.9" y="0">o</text><text transform="translate(125.1,106.1) scale(1.1,1)" x="-7.49" y="0">r</text><text transform="translate(149.2,106.1) scale(1.08,1)" x="-10.92" y="0">n</text></g>
<g font-size="18.3" fill="#0000ff"><text transform="translate(983,138.9) scale(0.99,1)" x="-6.37" y="0">B</text><text transform="translate(995,138.9) scale(1.1,1)" x="-5.08" y="0">u</text><text transform="translate(1007,138.9) scale(1.1,1)" x="-2.03" y="0">l</text><text transform="translate(1019,138.9) scale(1.1,1)" x="-2.03" y="0">l</text><text transform="translate(1031,138.9) scale(1.1,1)" x="-4.5" y="0">s</text><text transform="translate(1055,138.9) scale(0.81,1)" x="-6.62" y="0">w</text><text transform="translate(1067,138.9) scale(1.1,1)" x="-5.09" y="0">o</text><text transform="translate(1079,138.9) scale(1.1,1)" x="-3.5" y="0">r</text><text transform="translate(1091,138.9) scale(1.1,1)" x="-5.2" y="0">k</text><text transform="translate(1103,138.9) scale(1.1,1)" x="-2.03" y="0">i</text><text transform="translate(1115,138.9) scale(1.1,1)" x="-5.1" y="0">n</text><text transform="translate(1127,138.9) scale(1.1,1)" x="-4.89" y="0">g</text><text transform="translate(1151,138.9) scale(1.1,1)" x="-5.09" y="0">o</text><text transform="translate(1163,138.9) scale(1.1,1)" x="-5.1" y="0">n</text><text transform="translate(1187,138.9) scale(1.08,1)" x="-5.29" y="0">p</text><text transform="translate(1199,138.9) scale(1.1,1)" x="-3.5" y="0">r</text><text transform="translate(1211,138.9) scale(1.1,1)" x="-2.03" y="0">i</text><text transform="translate(1223,138.9) scale(1.1,1)" x="-4.72" y="0">c</text><text transform="translate(1235,138.9) scale(1.1,1)" x="-5.07" y="0">e</text><text transform="translate(1259,138.9) scale(1.1,1)" x="-5.08" y="0">u</text><text transform="translate(1271,138.9) scale(1.08,1)" x="-5.29" y="0">p</text><text transform="translate(1283,138.9) scale(1.1,1)" x="-2.62" y="0">t</text><text transform="translate(1295,138.9) scale(1.1,1)" x="-3.5" y="0">r</text><text transform="translate(1307,138.9) scale(1.1,1)" x="-5.07" y="0">e</text><text transform="translate(1319,138.9) scale(1.1,1)" x="-5.1" y="0">n</text><text transform="translate(1331,138.9) scale(1.08,1)" x="-4.89" y="0">d</text></g>
<g font-size="18.3" fill="#0000ff"><text transform="translate(983,158.9) scale(1.09,1)" x="-5.3" y="0">b</text><text transform="translate(995,158.9) scale(1.1,1)" x="-5.08" y="0">u</text><text transform="translate(1007,158.9) scale(1.1,1)" x="-2.62" y="0">t</text><text transform="translate(1031,158.9) scale(1.1,1)" x="-5.1" y="0">n</text><text transform="translate(1043,158.9) scale(1.1,1)" x="-5.07" y="0">e</text><text transform="translate(1055,158.9) scale(1.1,1)" x="-5.07" y="0">e</text><text transform="translate(1067,158.9) scale(1.08,1)" x="-4.89" y="0">d</text><text transform="translate(1091,158.9) scale(1.1,1)" x="-2.62" y="0">t</text><text transform="translate(1103,158.9) scale(1.1,1)" x="-5.09" y="0">o</text><text transform="translate(1127,158.9) scale(1.1,1)" x="-4.5" y="0">s</text><text transform="translate(1139,158.9) scale(1.1,1)" x="-5.12" y="0">h</text><text transform="translate(1151,158.9) scale(1.1,1)" x="-5.09" y="0">o</text><text transform="translate(1163,158.9) scale(0.81,1)" x="-6.62" y="0">w</text><text transform="translate(1187,158.9) scale(1.1,1)" x="-2.68" y="0">f</text><text transform="translate(1199,158.9) scale(1.1,1)" x="-3.5" y="0">r</text><text transform="translate(1211,158.9) scale(1.1,1)" x="-5.07" y="0">e</text><text transform="translate(1223,158.9) scale(1.1,1)" x="-4.5" y="0">s</text><text transform="translate(1235,158.9) scale(1.1,1)" x="-5.12" y="0">h</text><text transform="translate(1259,158.9) scale(1.08,1)" x="-5.29" y="0">p</text><text transform="translate(1271,158.9) scale(1.1,1)" x="-5.09" y="0">o</text><text transform="translate(1283,158.9) scale(0.81,1)" x="-6.62" y="0">w</text><text transform="translate(1295,158.9) scale(1.1,1)" x="-5.07" y="0">e</text><text transform="translate(1307,158.9) scale(1.1,1)" x="-3.5" y="0">r</text></g>
<g font-size="18.3" fill="#0000ff"><text transform="translate(983,178.9) scale(1.1,1)" x="-4.5" y="0">s</text><text transform="translate(995,178.9) scale(1.1,1)" x="-5.09" y="0">o</text><text transform="translate(1007,178.9) scale(1.1,1)" x="-5.09" y="0">o</text><text transform="translate(1019,178.9) scale(1.1,1)" x="-5.1" y="0">n</text><text transform="translate(1043,178.9) scale(1.1,1)" x="-2.62" y="0">t</text><text transform="translate(1055,178.9) scale(1.1,1)" x="-5.09" y="0">o</text><text transform="translate(1079,178.9) scale(1.1,1)" x="-5.2" y="0">k</text><text transform="translate(1091,178.9) scale(1.1,1)" x="-5.07" y="0">e</text><text transform="translate(1103,178.9) scale(1.1,1)" x="-5.07" y="0">e</text><text transform="translate(1115,178.9) scale(1.08,1)" x="-5.29" y="0">p</text><text transform="translate(1139,178.9) scale(1.1,1)" x="-2.03" y="0">i</text><text transform="translate(1151,178.9) scale(1.1,1)" x="-2.62" y="0">t</text><text transform="translate(1175,178.9) scale(1.02,1)" x="-5.47" y="0">a</text><text transform="translate(1187,178.9) scale(1.1,1)" x="-2.03" y="0">l</text><text transform="translate(1199,178.9) scale(1.1,1)" x="-2.03" y="0">i</text><text transform="translate(1211,178.9) scale(1.07,1)" x="-4.58" y="0">v</text><text transform="translate(1223,178.9) scale(1.1,1)" x="-5.07" y="0">e</text><text transform="translate(1235,178.9) scale(1.1,1)" x="-2.54" y="0">.</text></g>
<g font-size="18.3" fill="#ff00ff"><text transform="translate(340.9,259.6) scale(1.04,1)" x="-5.03" y="0">4</text><text transform="translate(352.9,259.6) scale(1.1,1)" x="-5.09" y="0">0</text><text transform="translate(364.9,259.6) scale(1.1,1)" x="-3.05" y="0">-</text><text transform="translate(376.9,259.6) scale(1.08,1)" x="-4.89" y="0">d</text><text transform="translate(388.9,259.6) scale(1.02,1)" x="-5.47" y="0">a</text><text transform="translate(400.9,259.6) scale(1.06,1)" x="-4.58" y="0">y</text></g>
<g font-size="18.3" fill="#ff00ff"><text transform="translate(340.9,279.6) scale(0.84,1)" x="-7.62" y="0">m</text><text transform="translate(352.9,279.6) scale(1.1,1)" x="-5.09" y="0">o</text><text transform="translate(364.9,279.6) scale(1.07,1)" x="-4.58" y="0">v</text><text transform="translate(376.9,279.6) scale(1.1,1)" x="-2.03" y="0">i</text><text transform="translate(388.9,279.6) scale(1.1,1)" x="-5.1" y="0">n</text><text transform="translate(400.9,279.6) scale(1.1,1)" x="-4.89" y="0">g</text></g>
<g font-size="18.3" fill="#ff00ff"><text transform="translate(340.9,299.6) scale(1.02,1)" x="-5.47" y="0">a</text><text transform="translate(352.9,299.6) scale(1.07,1)" x="-4.58" y="0">v</text><text transform="translate(364.9,299.6) scale(1.1,1)" x="-5.07" y="0">e</text><text transform="translate(376.9,299.6) scale(1.1,1)" x="-3.5" y="0">r</text><text transform="translate(388.9,299.6) scale(1.02,1)" x="-5.47" y="0">a</text><text transform="translate(400.9,299.6) scale(1.1,1)" x="-4.89" y="0">g</text><text transform="translate(412.9,299.6) scale(1.1,1)" x="-5.07" y="0">e</text></g>
<g font-size="18.3" fill="#800000"><text transform="translate(473,362.4) scale(0.88,1)" x="-6.93" y="0">R</text><text transform="translate(485,362.4) scale(1.1,1)" x="-5.07" y="0">e</text><text transform="translate(497,362.4) scale(1.1,1)" x="-4.5" y="0">s</text><text transform="translate(509,362.4) scale(1.1,1)" x="-2.03" y="0">i</text><text transform="translate(521,362.4) scale(1.1,1)" x="-4.5" y="0">s</text><text transform="translate(533,362.4) scale(1.1,1)" x="-2.62" y="0">t</text><text transform="translate(545,362.4) scale(1.02,1)" x="-5.47" y="0">a</text><text transform="translate(557,362.4) scale(1.1,1)" x="-5.1" y="0">n</text><text transform="translate(569,362.4) scale(1.1,1)" x="-4.72" y="0">c</text><text transform="translate(581,362.4) scale(1.1,1)" x="-5.07" y="0">e</text><text transform="translate(605,362.4) scale(1.02,1)" x="-5.47" y="0">a</text><text transform="translate(617,362.4) scale(1.1,1)" x="-2.62" y="0">t</text><text transform="translate(641,362.4) scale(0.99,1)" x="-5.04" y="0">$</text><text transform="translate(653,362.4) scale(1.1,1)" x="-5.03" y="0">3</text><text transform="translate(665,362.4) scale(1.1,1)" x="-2.54" y="0">.</text><text transform="translate(677,362.4) scale(1.1,1)" x="-5.09" y="0">9</text><text transform="translate(689,362.4) scale(1.1,1)" x="-5.09" y="0">2</text><text transform="translate(713,362.4) scale(1.1,1)" x="-5.03" y="0">3</text><text transform="translate(725,362.4) scale(1.1,1)" x="-2.54" y="0">/</text><text transform="translate(737,362.4) scale(1.04,1)" x="-5.03" y="0">4</text></g>
<g font-size="18.3" fill="#ff0000"><text transform="translate(527,448.4) scale(0.91,1)" x="-6.1" y="0">S</text><text transform="translate(539,448.4) scale(1.1,1)" x="-5.08" y="0">u</text><text transform="translate(551,448.4) scale(1.08,1)" x="-5.29" y="0">p</text><text transform="translate(563,448.4) scale(1.08,1)" x="-5.29" y="0">p</text><text transform="translate(575,448.4) scale(1.1,1)" x="-5.09" y="0">o</text><text transform="translate(587,448.4) scale(1.1,1)" x="-3.5" y="0">r</text><text transform="translate(599,448.4) scale(1.1,1)" x="-2.62" y="0">t</text><text transform="translate(623,448.4) scale(1.02,1)" x="-5.47" y="0">a</text><text transform="translate(635,448.4) scale(1.1,1)" x="-2.62" y="0">t</text><text transform="translate(659,448.4) scale(0.99,1)" x="-5.04" y="0">$</text><text transform="translate(671,448.4) scale(1.1,1)" x="-5.03" y="0">3</text><text transform="translate(683,448.4) scale(1.1,1)" x="-2.54" y="0">.</text><text transform="translate(695,448.4) scale(1.1,1)" x="-5.09" y="0">8</text><text transform="translate(707,448.4) scale(1.1,1)" x="-5.09" y="0">0</text></g>
<g font-size="18.3" fill="#000"><text transform="translate(869,635.8) scale(0.88,1)" x="-7.62" y="0">M</text><text transform="translate(881,635.8) scale(0.79,1)" x="-6.1" y="0">A</text><text transform="translate(893,635.8) scale(0.83,1)" x="-6.73" y="0">C</text><text transform="translate(905,635.8) scale(0.89,1)" x="-6.92" y="0">D</text><text transform="translate(929,635.8) scale(1.08,1)" x="-5.29" y="0">p</text><text transform="translate(941,635.8) scale(1.1,1)" x="-5.09" y="0">o</text><text transform="translate(953,635.8) scale(1.1,1)" x="-4.5" y="0">s</text><text transform="translate(965,635.8) scale(1.1,1)" x="-2.62" y="0">t</text><text transform="translate(977,635.8) scale(1.1,1)" x="-5.08" y="0">u</text><text transform="translate(989,635.8) scale(1.1,1)" x="-3.5" y="0">r</text><text transform="translate(1001,635.8) scale(1.1,1)" x="-5.07" y="0">e</text><text transform="translate(1025,635.8) scale(1.1,1)" x="-2.03" y="0">i</text><text transform="translate(1037,635.8) scale(1.1,1)" x="-4.5" y="0">s</text><text transform="translate(1061,635.8) scale(1.09,1)" x="-5.3" y="0">b</text><text transform="translate(1073,635.8) scale(1.1,1)" x="-5.08" y="0">u</text><text transform="translate(1085,635.8) scale(1.1,1)" x="-2.03" y="0">l</text><text transform="translate(1097,635.8) scale(1.1,1)" x="-2.03" y="0">l</text><text transform="translate(1109,635.8) scale(1.1,1)" x="-2.03" y="0">i</text><text transform="translate(1121,635.8) scale(1.1,1)" x="-4.5" y="0">s</text><text transform="translate(1133,635.8) scale(1.1,1)" x="-5.12" y="0">h</text></g>
<g font-size="12.6" fill="#000"><text transform="translate(5.42,582.8) scale(0.77,1)" x="-5.25" y="0">M</text><text transform="translate(13.75,582.8) scale(0.78,1)" x="-4.2" y="0">A</text><text transform="translate(22.07,582.8) scale(0.81,1)" x="-4.63" y="0">C</text><text transform="translate(30.41,582.8) scale(0.87,1)" x="-4.76" y="0">D</text></g>
<rect x="-1" y="691.5" width="211.8" height="49.2" fill="#fff" stroke="#808080" stroke-width="1"/>
<g font-size="21.8" fill="#000"><text transform="translate(6.42,710.4) scale(0.85,1)" x="-9.08" y="0">M</text><text transform="translate(20.27,710.4) scale(0.77,1)" x="-7.27" y="0">A</text><text transform="translate(34.12,710.4) scale(0.8,1)" x="-8.01" y="0">C</text><text transform="translate(47.98,710.4) scale(0.86,1)" x="-8.24" y="0">D</text><text transform="translate(61.82,710.4) scale(1.05,1)" x="-6.37" y="0">=</text><text transform="translate(103.38,710.4) scale(1.05,1)" x="-6.37" y="0">+</text><text transform="translate(117.22,710.4) scale(1.1,1)" x="-6.06" y="0">2</text><text transform="translate(131.07,710.4) scale(1.1,1)" x="-2.09" y="0">&#39;</text><text transform="translate(144.92,710.4) scale(1.01,1)" x="-6" y="0">4</text><text transform="translate(158.78,710.4) scale(1.1,1)" x="-3.03" y="0">.</text><text transform="translate(172.62,710.4) scale(1.07,1)" x="-6.04" y="0">5</text><text transform="translate(186.47,710.4) scale(1.08,1)" x="-6.06" y="0">8</text></g>
<g font-size="21.8" fill="#000"><text transform="translate(6.42,733.3) scale(0.85,1)" x="-9.08" y="0">M</text><text transform="translate(20.27,733.3) scale(0.77,1)" x="-7.27" y="0">A</text><text transform="translate(34.12,733.3) scale(0.8,1)" x="-8.01" y="0">C</text><text transform="translate(47.98,733.3) scale(0.86,1)" x="-8.24" y="0">D</text><text transform="translate(61.82,733.3) scale(0.77,1)" x="-7.27" y="0">A</text><text transform="translate(75.67,733.3) scale(1.05,1)" x="-6.37" y="0">=</text><text transform="translate(103.38,733.3) scale(1.05,1)" x="-6.37" y="0">+</text><text transform="translate(117.22,733.3) scale(1.06,1)" x="-6.06" y="0">0</text><text transform="translate(131.07,733.3) scale(1.1,1)" x="-2.09" y="0">&#39;</text><text transform="translate(144.92,733.3) scale(1.06,1)" x="-6.06" y="0">0</text><text transform="translate(158.78,733.3) scale(1.1,1)" x="-3.03" y="0">.</text><text transform="translate(172.62,733.3) scale(1.1,1)" x="-6.06" y="0">2</text><text transform="translate(186.47,733.3) scale(1.1,1)" x="-6.14" y="0">6</text></g>
<rect x="211" y="740" width="1203.3" height="1.4" fill="#000"/>
<rect x="-1" y="733.5" width="12.3" height="24.7" fill="#fff" stroke="#808080" stroke-width="1"/>
<g fill="#000"><rect x="29" y="741" width="1.3" height="15.7"/><rect x="53" y="741" width="1.3" height="15.7"/><rect x="89" y="741" width="1.3" height="15.7"/><rect x="149" y="741" width="1.3" height="15.7"/><rect x="209" y="741" width="1.3" height="15.7"/><rect x="269" y="741" width="1.3" height="15.7"/><rect x="317" y="741" width="1.3" height="15.7"/><rect x="377" y="741" width="1.3" height="15.7"/><rect x="437" y="741" width="1.3" height="15.7"/><rect x="497" y="741" width="1.3" height="15.7"/><rect x="557" y="741" width="1.3" height="15.7"/><rect x="605" y="741" width="1.3" height="15.7"/><rect x="665" y="741" width="1.3" height="15.7"/><rect x="725" y="741" width="1.3" height="15.7"/><rect x="785" y="741" width="1.3" height="15.7"/><rect x="821" y="741" width="1.3" height="15.7"/><rect x="845" y="741" width="1.3" height="15.7"/><rect x="905" y="741" width="1.3" height="15.7"/><rect x="965" y="741" width="1.3" height="15.7"/><rect x="1025" y="741" width="1.3" height="15.7"/><rect x="1085" y="741" width="1.3" height="15.7"/><rect x="1133" y="741" width="1.3" height="15.7"/><rect x="1193" y="741" width="1.3" height="15.7"/><rect x="1253" y="741" width="1.3" height="15.7"/><rect x="1325" y="741" width="1.3" height="15.7"/><rect x="1373" y="741" width="1.3" height="15.7"/></g>
<g font-size="12" fill="#000"><text x="31.36" y="753">2</text><text x="39.56" y="753">9</text></g>
<g font-size="12" fill="#000"><text x="55.36" y="753">0</text><text x="63.4" y="753">1</text></g>
<g font-size="12" fill="#000"><text x="91.36" y="753">0</text><text x="99.52" y="753">6</text></g>
<g font-size="12" fill="#000"><text x="151.2" y="753">1</text><text x="159.6" y="753">3</text></g>
<g font-size="12" fill="#000"><text x="211.36" y="753">2</text><text x="219.56" y="753">0</text></g>
<g font-size="12" fill="#000"><text x="271.36" y="753">2</text><text x="279.56" y="753">8</text></g>
<g font-size="12" fill="#000"><text x="319.36" y="753">0</text><text x="327.6" y="753">3</text></g>
<g font-size="12" fill="#000"><text x="379.2" y="753">1</text><text x="387.56" y="753">0</text></g>
<g font-size="12" fill="#000"><text x="439.2" y="753">1</text><text x="447.56" y="753">7</text></g>
<g font-size="12" fill="#000"><text x="499.36" y="753">2</text><text x="507.6" y="753">4</text></g>
<g font-size="12" fill="#000"><text x="559.36" y="753">0</text><text x="567.4" y="753">1</text></g>
<g font-size="12" fill="#000"><text x="607.36" y="753">0</text><text x="615.56" y="753">8</text></g>
<g font-size="12" fill="#000"><text x="667.2" y="753">1</text><text x="675.58" y="753">5</text></g>
<g font-size="12" fill="#000"><text x="727.36" y="753">2</text><text x="735.56" y="753">2</text></g>
<g font-size="12" fill="#000"><text x="787.36" y="753">2</text><text x="795.56" y="753">9</text></g>
<g font-size="12" fill="#000"><text x="823.36" y="753">0</text><text x="831.4" y="753">1</text></g>
<g font-size="12" fill="#000"><text x="847.36" y="753">0</text><text x="855.58" y="753">5</text></g>
<g font-size="12" fill="#000"><text x="907.2" y="753">1</text><text x="915.56" y="753">2</text></g>
<g font-size="12" fill="#000"><text x="967.2" y="753">1</text><text x="975.56" y="753">9</text></g>
<g font-size="12" fill="#000"><text x="1027.36" y="753">2</text><text x="1035.52" y="753">6</text></g>
<g font-size="12" fill="#000"><text x="1087.36" y="753">0</text><text x="1095.6" y="753">3</text></g>
<g font-size="12" fill="#000"><text x="1135.36" y="753">0</text><text x="1143.56" y="753">9</text></g>
<g font-size="12" fill="#000"><text x="1195.2" y="753">1</text><text x="1203.52" y="753">6</text></g>
<g font-size="12" fill="#000"><text x="1255.36" y="753">2</text><text x="1263.6" y="753">3</text></g>
<g font-size="12" fill="#000"><text x="1327.36" y="753">0</text><text x="1335.4" y="753">1</text></g>
<g font-size="12" fill="#000"><text x="1375.36" y="753">0</text><text x="1383.56" y="753">7</text></g>
<g font-size="12" fill="#000"><text x="320.6" y="737.4">J</text><text x="328.02" y="737.4">u</text><text x="336.11" y="737.4">n</text></g>
<g font-size="12" fill="#000"><text x="560.6" y="737.4">J</text><text x="568.02" y="737.4">u</text><text x="578.12" y="737.4">l</text></g>
<g font-size="12" fill="#000"><text x="823.25" y="737.4">A</text><text x="832.02" y="737.4">u</text><text x="840.25" y="737.4">g</text></g>
<g font-size="12" fill="#000"><text x="1087.25" y="737.4">S</text><text x="1096.03" y="737.4">e</text><text x="1103.98" y="737.4">p</text></g>
<g font-size="12" fill="#000"><text transform="translate(1331.25,737.4) scale(0.99,1)" x="-4.66" y="0">O</text><text x="1336.25" y="737.4">c</text><text x="1345.73" y="737.4">t</text></g>
<polygon fill="#ff0000" points="1454.9,748.9 1463,742.1 1463,745.9 1470.9,745.9 1470.9,751.8 1463,751.8 1463,756.2"/>
<rect x="1473" y="0" width="1" height="760" fill="#d8d8d8"/>
<rect x="0" y="759" width="1474" height="1" fill="#e0e0e0"/>
<rect x="0" y="760.7" width="1460" height="1.3" fill="#3c4048"/>
<rect x="1460" y="760.7" width="15" height="1.3" fill="#9a9a9a"/>
</svg></body></html>
